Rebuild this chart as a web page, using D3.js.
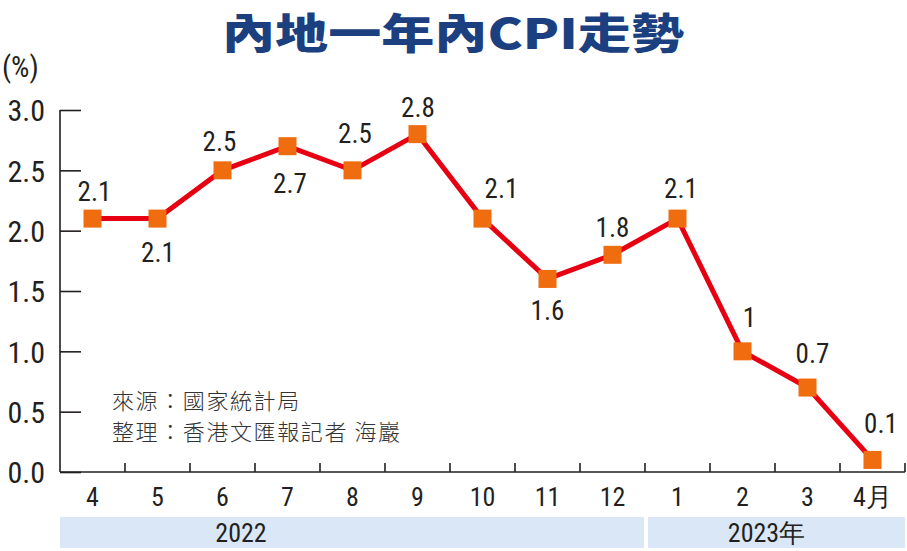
<!DOCTYPE html>
<html><head><meta charset="utf-8">
<script src="https://cdn.jsdelivr.net/npm/d3@7"></script>
<style>
body{margin:0;background:#fff;}
svg{display:block;}
.cond{font-family:'Liberation Sans Narrow','Arial Narrow','Roboto Condensed',sans-serif;}
</style></head>
<body><svg id="c" width="907" height="551"></svg>
<script>
const months = ["4","5","6","7","8","9","10","11","12","1","2","3","4月"];
const cpi = [2.1,2.1,2.5,2.7,2.5,2.8,2.1,1.6,1.8,2.1,1,0.7,0.1];
const labelText = ["2.1","2.1","2.5","2.7","2.5","2.8","2.1","1.6","1.8","2.1","1","0.7","0.1"];
const yTicks = [0,0.5,1.0,1.5,2.0,2.5,3.0];
const years = [{label:"2022",from:"4",to:"12"},{label:"2023年",from:"1",to:"4月"}];
const title = "內地一年內CPI走勢";
const unit = "(%)";
const notes = ["來源：國家統計局","整理：香港文匯報記者 海巖"];

// layout: label offsets (px) relative to each marker
const labelDx = [2,0.5,-3,2.5,2.5,0.5,19,0,0,3.5,7,5,8.5];
const labelDy = [-17.5,43.5,-19,47,-27,-17,-20.5,41,-18,-20.5,-24,-24.5,-27];

const svg = d3.select("#c");
const mL = 60, mR = 905, mT = 110, mB = 472;
const x = d3.scaleBand().domain(months).range([mL,mR]).padding(0);
const y = d3.scaleLinear().domain([0,3]).range([mB,mT]);
const ink = "#231f20";

// title
svg.append("text").attr("x",453).attr("y",49).attr("text-anchor","middle")
  .attr("font-family","'Noto Sans CJK TC','Noto Sans CJK SC',sans-serif").attr("font-weight",900)
  .attr("font-size",42).attr("fill","#1b3f7f").attr("textLength",462).attr("lengthAdjust","spacingAndGlyphs").text(title);

// unit
svg.append("text").attr("class","cond").attr("x",2).attr("y",77).attr("font-size",29).attr("fill",ink).text(unit);

// y axis
const yAxis = svg.append("g").attr("transform",`translate(${mL},0)`)
  .call(d3.axisRight(y).tickValues(yTicks).tickSize(21).tickFormat(d3.format(".1f")));
yAxis.select(".domain").attr("d",`M0,${mB}V${mT}`).attr("stroke",ink).attr("stroke-width",1.6);
yAxis.selectAll(".tick line").attr("stroke",ink).attr("stroke-width",1.6);
yAxis.selectAll(".tick text").attr("class","cond").attr("x",-15).attr("text-anchor","end")
  .attr("font-size",30).attr("fill",ink).attr("dy","0.36em");

// x axis
const edges = months.map(m=>x(m)).concat([mR]);
const xg = svg.append("g");
xg.append("line").attr("x1",mL).attr("x2",mR).attr("y1",mB).attr("y2",mB).attr("stroke",ink).attr("stroke-width",1.6);
xg.selectAll("line.t").data(edges.slice(1)).join("line").attr("class","t")
  .attr("x1",d=>d).attr("x2",d=>d).attr("y1",mB).attr("y2",mB-9).attr("stroke",ink).attr("stroke-width",1.6);
xg.selectAll("text").data(months).join("text").attr("class","cond")
  .attr("x",d=>x(d)+x.bandwidth()/2).attr("y",506).attr("text-anchor","middle")
  .attr("font-size",26).attr("fill",ink).text(d=>d);

// year bands
const yb = svg.append("g");
years.forEach((yr,i)=>{
  const x0 = x(yr.from) + (i>0?3:0);
  const x1 = x(yr.to)+x.bandwidth() - (i===0?1:0);
  yb.append("rect").attr("x",x0).attr("y",517).attr("width",x1-x0).attr("height",31).attr("fill","#dae7f6");
  const tx = i===0 ? x0 + (x1-x0)*0.31 : (x0+x1)/2 - 10;
  yb.append("text").attr("class","cond").attr("x",tx).attr("y",542).attr("text-anchor","middle")
    .attr("font-size",26).attr("fill",ink).text(yr.label);
});

// notes
svg.selectAll("text.note").data(notes).join("text").attr("class","note")
  .attr("x",112).attr("y",(d,i)=>409+i*31).attr("font-size",22).attr("letter-spacing",1.6)
  .attr("font-family","'Noto Sans CJK TC',sans-serif").attr("font-weight",300).attr("fill","#333").text(d=>d);

// line
const px = (d,i)=>x(months[i])+x.bandwidth()/2;
svg.append("path").datum(cpi).attr("fill","none").attr("stroke","#e60012").attr("stroke-width",5)
  .attr("stroke-linejoin","miter")
  .attr("d",d3.line().x(px).y(d=>y(d)));

// markers
const s = 18;
svg.selectAll("rect.m").data(cpi).join("rect").attr("class","m")
  .attr("x",(d,i)=>px(d,i)-s/2).attr("y",d=>y(d)-s/2).attr("width",s).attr("height",s).attr("fill","#ef6c0f");

// value labels
svg.selectAll("text.v").data(cpi).join("text").attr("class","v cond")
  .attr("x",(d,i)=>px(d,i)+labelDx[i]).attr("y",(d,i)=>y(d)+labelDy[i])
  .attr("text-anchor","middle").attr("font-size",27).attr("fill",ink).text((d,i)=>labelText[i]);
</script></body></html>
